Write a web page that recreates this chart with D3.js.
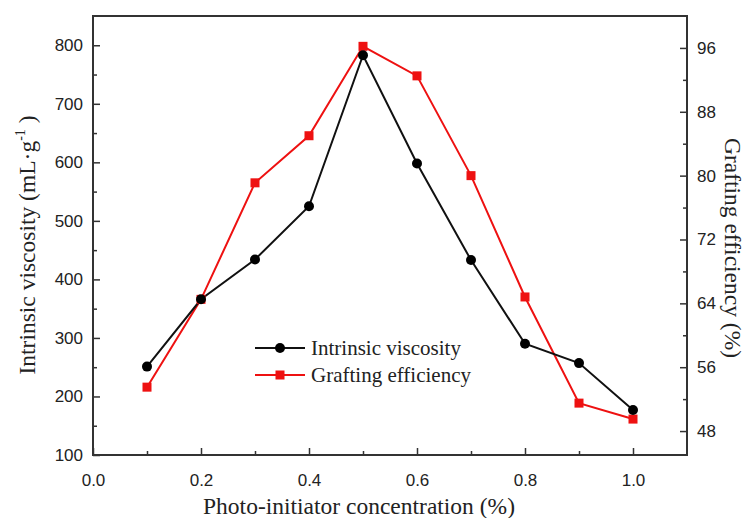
<!DOCTYPE html>
<html><head><meta charset="utf-8">
<script src="https://cdn.jsdelivr.net/npm/d3@7"></script>
<style>body{margin:0;background:#fff}svg{display:block}</style>
</head><body>
<svg id="c" width="752" height="518"></svg>
<script>
const concentration = [0.1,0.2,0.3,0.4,0.5,0.6,0.7,0.8,0.9,1.0];
const viscosity = [251,366,434,525,783,598,433,290,257,177];
const grafting = [53.5,64.5,79.1,85.0,96.2,92.5,80.0,64.8,51.5,49.5];
const xTicks = [0.0,0.2,0.4,0.6,0.8,1.0];
const leftTicks = [100,200,300,400,500,600,700,800];
const rightTicks = [48,56,64,72,80,88,96];

const svg = d3.select("#c");
const L=93,R=687,T=16,B=455;
const x = d3.scaleLinear().domain([0,1.1]).range([L,R]);
const yL = d3.scaleLinear().domain([100,850]).range([B,T]);
const yR = d3.scaleLinear().domain([45,100]).range([B,T]);
const axisCol="#333", tickFont="Liberation Sans, Arial, sans-serif", serif="Liberation Serif, Times New Roman, serif";

function styleAxis(g){
  g.select(".domain").remove();
  g.selectAll("line").attr("stroke",axisCol).attr("stroke-width",1.5);
  g.selectAll("text").attr("fill","#222").style("font-family",tickFont).style("font-size","17px");
}
const xMinor = d3.range(0.1,1.1,0.2);
svg.append("g").attr("transform",`translate(0,${B})`)
  .call(d3.axisBottom(x).tickValues(xMinor).tickSize(-4).tickFormat(""))
  .call(styleAxis);
svg.append("g").attr("transform",`translate(0,${B})`)
  .call(d3.axisBottom(x).tickValues(xTicks).tickSize(-7).tickPadding(19).tickFormat(d3.format(".1f")))
  .call(styleAxis);
svg.append("g").attr("transform",`translate(${L},0)`)
  .call(d3.axisLeft(yL).tickValues(d3.range(150,850,100)).tickSize(-4).tickFormat(""))
  .call(styleAxis);
svg.append("g").attr("transform",`translate(${L},0)`)
  .call(d3.axisLeft(yL).tickValues(leftTicks).tickSize(-7).tickPadding(10))
  .call(styleAxis);
svg.append("g").attr("transform",`translate(${R},0)`)
  .call(d3.axisRight(yR).tickValues(d3.range(52,100,8)).tickSize(-4).tickFormat(""))
  .call(styleAxis);
svg.append("g").attr("transform",`translate(${R},0)`)
  .call(d3.axisRight(yR).tickValues(rightTicks).tickSize(-7).tickPadding(10))
  .call(styleAxis);

svg.append("rect").attr("x",L).attr("y",T).attr("width",R-L).attr("height",B-T)
  .attr("fill","none").attr("stroke",axisCol).attr("stroke-width",2);

const data = concentration.map((c,i)=>({c,v:viscosity[i],g:grafting[i]}));
svg.append("path").datum(data).attr("fill","none").attr("stroke","#ee1111").attr("stroke-width",2)
  .attr("d",d3.line().x(d=>x(d.c)).y(d=>yR(d.g)));
svg.append("path").datum(data).attr("fill","none").attr("stroke","#111").attr("stroke-width",2)
  .attr("d",d3.line().x(d=>x(d.c)).y(d=>yL(d.v)));
svg.selectAll(".sq").data(data).enter().append("rect")
  .attr("x",d=>x(d.c)-4.5).attr("y",d=>yR(d.g)-4.5).attr("width",9).attr("height",9).attr("fill","#ee1111");
svg.selectAll(".ci").data(data).enter().append("circle")
  .attr("cx",d=>x(d.c)).attr("cy",d=>yL(d.v)).attr("r",5).attr("fill","#000");

const lg = svg.append("g");
[[348,"#111","Intrinsic viscosity","c"],[375,"#ee1111","Grafting efficiency","s"]].forEach(([y,col,t,m])=>{
  lg.append("line").attr("x1",255).attr("x2",305).attr("y1",y).attr("y2",y).attr("stroke",col).attr("stroke-width",2);
  if(m==="c") lg.append("circle").attr("cx",280).attr("cy",y).attr("r",5).attr("fill","#000");
  else lg.append("rect").attr("x",275.5).attr("y",y-4.5).attr("width",9).attr("height",9).attr("fill",col);
  lg.append("text").attr("x",311).attr("y",y+7).text(t).attr("fill","#222")
    .style("font-family",serif).style("font-size","21px");
});

svg.append("text").attr("x",359).attr("y",514).attr("text-anchor","middle")
  .style("font-family",serif).style("font-size","23.5px").attr("fill","#222")
  .text("Photo-initiator concentration (%)");
const lt = svg.append("text").attr("transform",`translate(35,245) rotate(-90)`).attr("text-anchor","middle")
  .style("font-family",serif).style("font-size","23.5px").attr("fill","#222");
lt.append("tspan").text("Intrinsic viscosity (mL·g");
lt.append("tspan").text("-1").attr("dy",-10).style("font-size","14px");
lt.append("tspan").text(" )").attr("dy",10);
svg.append("text").attr("transform",`translate(725,248) rotate(90)`).attr("text-anchor","middle")
  .style("font-family",serif).style("font-size","23.5px").attr("fill","#222")
  .text("Grafting efficiency (%)");
</script>
</body></html>
